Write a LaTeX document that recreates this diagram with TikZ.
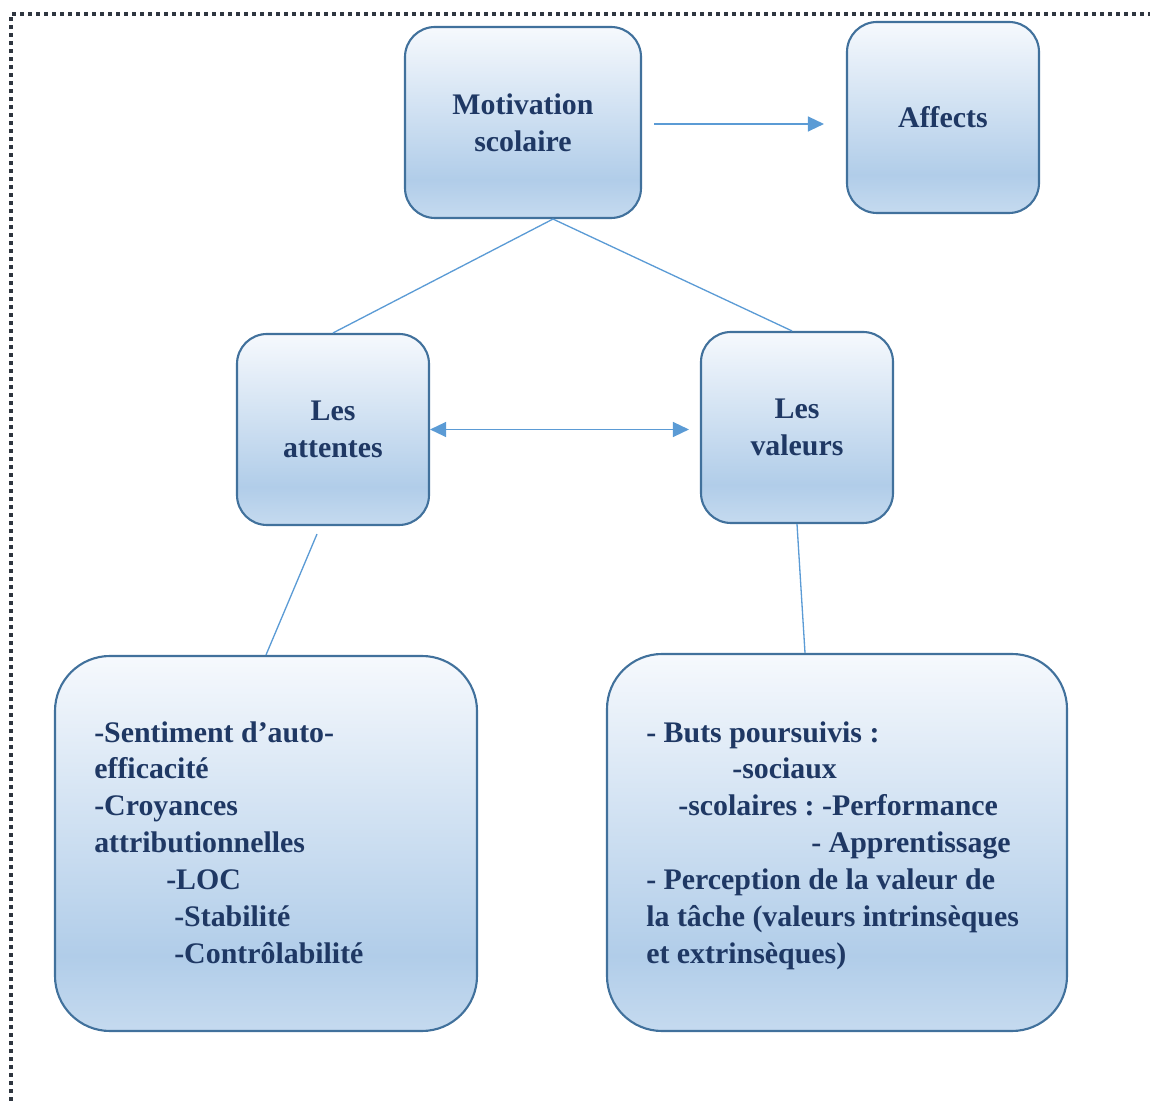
\documentclass[tikz,border=0pt]{standalone}
\usepackage{fontspec}
\setmainfont{Liberation Serif}
\usepackage{xcolor}
\usepackage{tikz}
\usetikzlibrary{arrows.meta}
\frenchspacing

\definecolor{boxline}{HTML}{41719C}
\definecolor{linkblue}{HTML}{5B9BD5}
\definecolor{textnavy}{HTML}{1F3864}
\definecolor{shadetop}{HTML}{F6F9FD}
\definecolor{shademid}{HTML}{B1CDE9}
\definecolor{shadebot}{HTML}{C5DAEF}
\definecolor{framegray}{HTML}{2F3640}

\pgfdeclareverticalshading{boxshade}{100bp}{color(0bp)=(shadebot); color(25bp)=(shadebot); color(35bp)=(shademid); color(75bp)=(shadetop); color(100bp)=(shadetop)}

\tikzset{
  boxfont/.style={text=textnavy, font=\fontsize{17}{21}\selectfont\bfseries},
  smallbox/.style={draw=boxline, line width=1.2pt, rounded corners=0.6cm, shading=boxshade,
    minimum width=3.84cm, minimum height=3.82cm, align=center, inner sep=0pt, boxfont},
  bigbox/.style={draw=boxline, line width=1.2pt, rounded corners=1.1cm, shading=boxshade, inner sep=0pt},
  listtext/.style={align=left, inner sep=0pt, anchor=north west, boxfont},
  link/.style={draw=linkblue, line width=0.75pt},
  arrowlink/.style={link, -{Triangle[length=0.32cm, width=0.3cm]}},
  twowaylink/.style={link, {Triangle[length=0.32cm, width=0.3cm]}-{Triangle[length=0.32cm, width=0.3cm]}}
}

\begin{document}
\begin{tikzpicture}
    \useasboundingbox (0,0) rectangle (23,22.02);

    % dotted frame (only top and left edges visible)
    \draw[framegray, line width=0.07cm, dash pattern=on 0.07cm off 0.09cm]
        (0.22,0) -- (0.22,21.74) -- (23,21.74);

    % Top row
    \node[smallbox, minimum width=4.72cm] (mot) at (10.46,19.57) {Motivation\\scolaire};
    \node[smallbox] (aff) at (18.86,19.67) {Affects};

    % Middle row
    \node[smallbox] (att) at (6.66,13.43) {Les\\attentes};
    \node[smallbox] (val) at (15.94,13.47) {Les\\valeurs};

    % Bottom boxes
    \node[bigbox, minimum width=8.44cm, minimum height=7.5cm] (lb) at (5.32,5.15) {};
    \node[listtext] (lbtext) at ([xshift=0.8cm, yshift=-1.32cm]lb.north west)
        {-Sentiment d’auto-\\
         efficacité\\
         -Croyances\\
         attributionnelles\\
         \hspace*{1.44cm}-LOC\\
         \hspace*{1.6cm}-Stabilité\\
         \hspace*{1.6cm}-Contrôlabilité};

    \node[bigbox, minimum width=9.2cm, minimum height=7.54cm] (rb) at (16.74,5.17) {};
    \node[listtext] (rbtext) at ([xshift=0.8cm, yshift=-1.36cm]rb.north west)
        {- Buts poursuivis :\\
         \hspace*{1.72cm}-sociaux\\
         \hspace*{0.64cm}-scolaires : -Performance\\
         \hspace*{3.3cm}- Apprentissage\\
         - Perception de la valeur de\\
         la tâche (valeurs intrinsèques\\
         et extrinsèques)};

    % Connectors
    \coordinate (motout) at ([xshift=0.24cm, yshift=-0.03cm]mot.east);
    \coordinate (affin) at ([xshift=-0.44cm]aff.west);
    \coordinate (valin) at ([xshift=-0.22cm]val.west);
    \draw[arrowlink] (motout) -- (affin |- motout);
    \draw[link] ([xshift=0.6cm]mot.south) -- (att.north);
    \draw[link] ([xshift=0.6cm]mot.south) -- ([xshift=-0.1cm]val.north);
    \draw[twowaylink] (att.east) -- (valin |- att.east);
    \draw[link] ([xshift=-0.32cm, yshift=-0.16cm]att.south) -- (lb.north);
    \draw[link] (val.south) -- ([xshift=-0.64cm]rb.north);
\end{tikzpicture}
\end{document}
